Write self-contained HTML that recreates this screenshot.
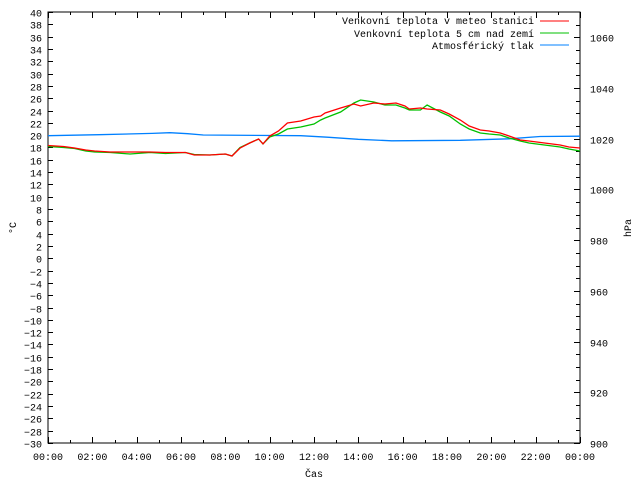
<!DOCTYPE html>
<html><head><meta charset="utf-8"><style>
html,body{margin:0;padding:0;background:#fff;}
svg{display:block;font-family:"Liberation Mono",monospace;font-size:10px;}
</style></head><body>
<svg id="chart" width="640" height="480" viewBox="0 0 640 480" xmlns="http://www.w3.org/2000/svg">
<rect width="640" height="480" fill="#fff"/>
<g id="axes"></g>
<g id="series"></g>
<text x="0" y="0" transform="translate(16,228) rotate(-90)" text-anchor="middle">°C</text>
<text x="0" y="0" transform="translate(631,228) rotate(-90)" text-anchor="middle">hPa</text>
<text x="314" y="477" text-anchor="middle">Čas</text>
<g id="legend">
  <text x="534" y="24" text-anchor="end">Venkovní teplota v meteo stanici</text>
  <line x1="540" y1="21" x2="569" y2="21" stroke="#ff0000" stroke-width="1"/>
  <text x="534" y="37" text-anchor="end">Venkovní teplota 5 cm nad zemí</text>
  <line x1="540" y1="33" x2="569" y2="33" stroke="#00c000" stroke-width="1"/>
  <text x="534" y="49" text-anchor="end">Atmosférický tlak</text>
  <line x1="540" y1="45" x2="569" y2="45" stroke="#0080ff" stroke-width="1"/>
</g>
</svg>
<script>
const tempHours = [0,0.7,1.2,1.7,2.1,2.8,3.7,4.6,5.3,6.2,6.6,7.3,8.0,8.3,8.66,9.1,9.5,9.7,10.0,10.4,10.8,11.4,12.0,12.3,12.5,13.2,13.8,14.1,14.7,15.2,15.7,16.1,16.3,16.8,17.1,17.7,18.1,18.6,19.0,19.5,19.9,20.4,20.8,21.3,21.7,22.4,23.1,23.5,24];
const tempStation = [18.32,18.16,17.91,17.59,17.42,17.26,17.26,17.26,17.18,17.18,16.78,16.78,16.94,16.61,17.9,18.73,19.38,18.57,19.86,20.67,21.97,22.30,22.95,23.11,23.60,24.41,25.06,24.73,25.22,25.06,25.22,24.73,24.25,24.41,24.25,24.08,23.44,22.46,21.49,20.84,20.67,20.35,19.86,19.21,19.05,18.73,18.40,18.08,17.91];
const tempGround = [18.16,18.00,17.83,17.42,17.26,17.18,16.94,17.18,17.02,17.18,16.86,16.78,16.94,16.61,18.0,18.73,19.38,18.57,19.70,20.19,21.00,21.32,21.81,22.46,22.79,23.76,25.22,25.71,25.38,24.90,24.90,24.41,24.08,24.08,24.90,23.76,23.11,21.81,21.00,20.35,20.19,20.03,19.54,19.05,18.73,18.40,18.08,17.75,17.42];
const pressHours = [0,2.3,4.7,5.5,6.3,7.0,11.4,12.6,14.0,15.5,18.6,20.8,22.2,24];
const pressure = [1021.2,1021.6,1022.1,1022.4,1022.0,1021.5,1021.2,1020.6,1019.8,1019.2,1019.4,1020.0,1020.9,1021.0];
const xTickLabels = ["00:00","02:00","04:00","06:00","08:00","10:00","12:00","14:00","16:00","18:00","20:00","22:00","00:00"];
const yTickValues = [-30,-28,-26,-24,-22,-20,-18,-16,-14,-12,-10,-8,-6,-4,-2,0,2,4,6,8,10,12,14,16,18,20,22,24,26,28,30,32,34,36,38,40];
const y2TickValues = [900,920,940,960,980,1000,1020,1040,1060];

const L=48,R=580,T=12,B=443;
const xs=h=>L+(R-L)*h/24;
const ys=v=>B-(B-T)*(v+30)/70;
const ys2=p=>B-(B-T)*(p-900)/170;
const NS="http://www.w3.org/2000/svg";
function mk(tag,attrs,parent){const e=document.createElementNS(NS,tag);for(const k in attrs)e.setAttribute(k,attrs[k]);parent.appendChild(e);return e;}
const axes=document.getElementById('axes');
const series=document.getElementById('series');

const frame=mk('rect',{x:L,y:T,width:R-L,height:B-T,fill:'none',stroke:'#000','stroke-width':1},axes);



yTickValues.forEach(v=>{
  const y=Math.round(ys(v))+0.5;
  const t=mk('line',{x1:L,y1:y,x2:L+5,y2:y,stroke:'#000'},axes);
  
  
  const lb=mk('text',{x:42,y:y+4,'text-anchor':'end'},axes);
  
  
  lb.textContent=String(v).replace('-','−');
});
for(let p=900;p<=1065;p+=5){
  const y=Math.round(ys2(p))+0.5;
  const t=mk('line',{x1:R-(p%20===0?6:4),y1:y,x2:R,y2:y,stroke:'#000'},axes);
  
  
}
y2TickValues.forEach(p=>{
  const y=Math.round(ys2(p))+0.5;
  const lb=mk('text',{x:590,y:y+4,'text-anchor':'start'},axes);
  
  
  lb.textContent=p;
});
for(let h=0;h<=24;h++){
  const x=Math.round(xs(h))+0.5;const len=h%2===0?6:3;
  const t1=mk('line',{x1:x,y1:B,x2:x,y2:B-len,stroke:'#000'},axes);
  
  
  const t2=mk('line',{x1:x,y1:T,x2:x,y2:T+len,stroke:'#000'},axes);
  
  
}
xTickLabels.forEach((s,i)=>{
  const lb=mk('text',{x:xs(i*2),y:460,'text-anchor':'middle'},axes);
  
  
  lb.textContent=s;
});
function path(hs,vs,sc){return hs.map((h,i)=>(i?'L':'M')+xs(h).toFixed(1)+','+sc(vs[i]).toFixed(1)).join('');}
const pl=mk('path',{d:path(pressHours,pressure,ys2),fill:'none',stroke:'#0080ff','stroke-width':1.3},series);


const gl=mk('path',{d:path(tempHours,tempGround,ys),fill:'none',stroke:'#00c000','stroke-width':1.3},series);


const rl=mk('path',{d:path(tempHours,tempStation,ys),fill:'none',stroke:'#ff0000','stroke-width':1.3},series);


</script>
</body></html>
